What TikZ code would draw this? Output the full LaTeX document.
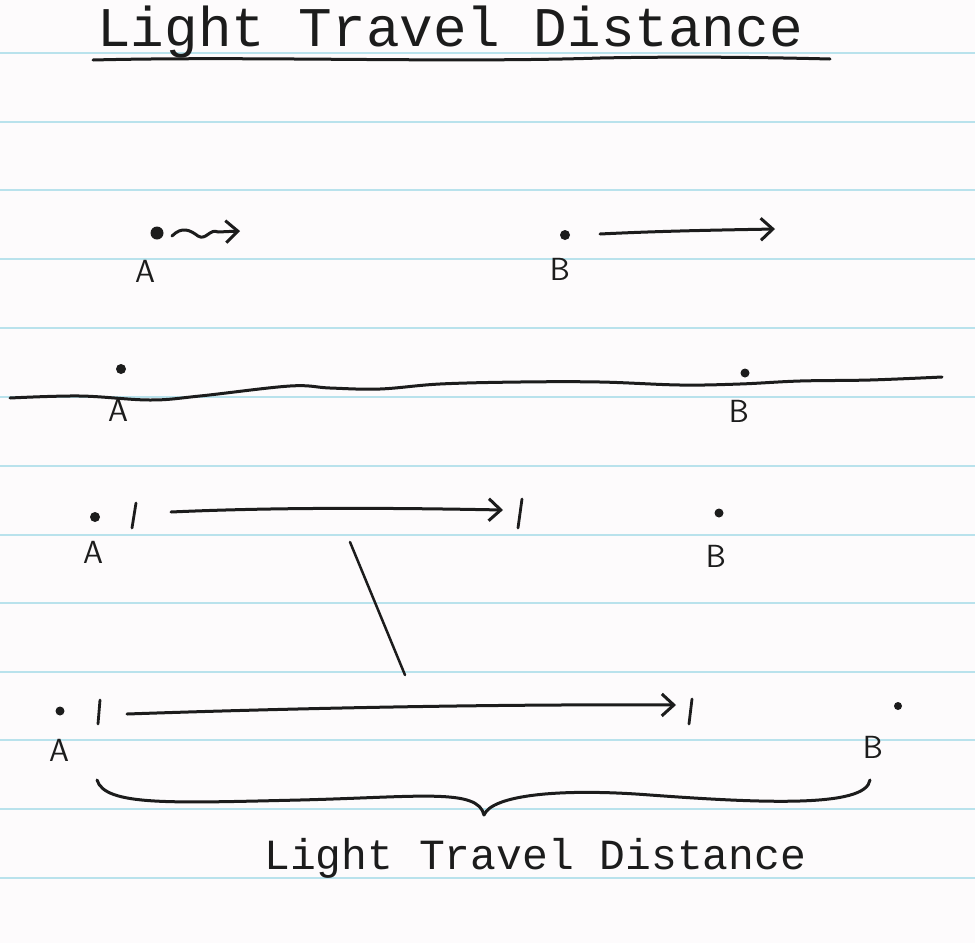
\documentclass[tikz,border=0pt]{standalone}
\usepackage{fontspec}
\newfontfamily\handfont{Liberation Mono}
\usetikzlibrary{arrows.meta}
\definecolor{paper}{HTML}{FDFBFC}
\definecolor{rule}{HTML}{B9E2EC}
\definecolor{ink}{HTML}{1C1C1C}
\tikzset{
  ink/.style={draw=ink, line width=3pt, line cap=round, line join=round},
  pen/.style={ink, -{Straight Barb[length=12pt,width=22pt,line width=3pt]}},
  dotnode/.style={circle, fill=ink, inner sep=0pt, minimum size=#1},
  dotnode/.default=10pt,
  lbl/.style={text=ink, font=\sffamily\fontsize{32}{34}\selectfont, inner sep=0pt, anchor=base},
  ttl/.style={text=ink, inner sep=0pt, anchor=base west},
  tick/.style={ink, line width=2.8pt},
}
\begin{document}
\begin{tikzpicture}[x=1pt,y=-1pt]
\fill[paper] (0,0) rectangle (975,943);
\useasboundingbox (0,0) rectangle (975,943);
% ruled lines
\foreach \yy in {53,122,190,259,328,397,466,535,603,672,740,809,878}
  \draw[rule, line width=1.5pt] (0,\yy) -- (975,\yy);

% title
\node[ttl, font=\handfont\fontsize{56}{60}\selectfont] (title) at (97,46) {Light Travel Distance};
\coordinate (ul1) at (93,60);
\coordinate (ul2) at (830,59);
\draw[ink] (ul1) .. controls (250,56) and (450,63) .. (600,58) .. controls (700,56) and (790,58) .. (ul2);

% row 1
\node[dotnode=13pt] (a1) at (157,233) {};
\node[dotnode=10pt] (b1) at (565,235) {};
\node[lbl] (la1) at (145,282) {A};
\node[lbl] (lb1) at (560,280) {B};
\coordinate (sq1) at (172,236);
\coordinate (sq2) at (240,231);
\draw[pen] (sq1) .. controls (182,226) and (190,230) .. (198,236) .. controls (206,241) and (210,228) .. (218,232) -- (sq2);
\coordinate (r1a) at (600,234);
\coordinate (r1b) at (775,229);
\draw[pen] (r1a) .. controls (660,231) and (720,230) .. (r1b);

% row 2
\node[dotnode=10pt] (a2) at (121,369) {};
\node[dotnode=9pt] (b2) at (745,373) {};
\node[lbl] (la2) at (118,421) {A};
\node[lbl] (lb2) at (739,422) {B};
\coordinate (w0) at (10,398);
\coordinate (w9) at (942,377);
\draw[ink] plot[smooth, tension=0.6] coordinates {(w0) (80,396) (150,400) (200,396) (290,386) (330,388) (380,389) (440,384) (520,382) (600,382) (680,385) (740,384) (800,381) (870,380) (w9)};

% row 3
\node[dotnode=10pt] (a3) at (95,517) {};
\node[dotnode=9pt] (b3) at (719,513) {};
\node[lbl] (la3) at (93,563) {A};
\node[lbl] (lb3) at (716,567) {B};
\coordinate (t3a) at (136,503);
\coordinate (t3b) at (132,528);
\draw[tick] (t3a) -- (t3b);
\coordinate (t3c) at (522,499);
\coordinate (t3d) at (518,528);
\draw[tick] (t3c) -- (t3d);
\coordinate (r3a) at (171,512);
\coordinate (r3b) at (503,510);
\draw[pen] (r3a) .. controls (280,507) and (400,508) .. (r3b);

% diagonal connector
\coordinate (d1) at (350,542);
\coordinate (d2) at (405,675);
\draw[ink, line width=2.5pt] (d1) -- (d2);

% row 4
\node[dotnode=9pt] (a4) at (60,711) {};
\node[dotnode=8pt] (b4) at (898,706) {};
\node[lbl] (la4) at (59,761) {A};
\node[lbl] (lb4) at (873,758) {B};
\coordinate (t4a) at (100,700);
\coordinate (t4b) at (98,724);
\draw[tick] (t4a) -- (t4b);
\coordinate (t4c) at (692,699);
\coordinate (t4d) at (689,724);
\draw[tick] (t4c) -- (t4d);
\coordinate (r4a) at (127,714);
\coordinate (r4b) at (676,705);
\draw[pen] (r4a) .. controls (300,708) and (500,704) .. (r4b);

% brace
\coordinate (br1) at (97,780);
\coordinate (brt) at (484,815);
\coordinate (br2) at (870,780);
\draw[ink] (br1) .. controls (105,806) and (170,803) .. (300,800) .. controls (420,797) and (478,788) .. (brt)
  .. controls (492,795) and (560,788) .. (650,795) .. controls (760,803) and (866,808) .. (br2);

% bottom label
\node[ttl, font=\handfont\fontsize{43}{46}\selectfont] (bl) at (264,869) {Light Travel Distance};
\end{tikzpicture}
\end{document}
